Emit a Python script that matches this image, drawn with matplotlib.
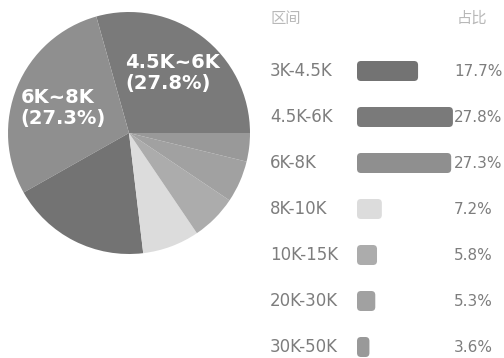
import matplotlib
matplotlib.use("Agg")
import matplotlib.pyplot as plt
from matplotlib.patches import FancyBboxPatch
import numpy as np

plt.rcParams['font.family'] = ['DejaVu Sans', 'Noto Sans CJK SC']

categories = ["3K-4.5K", "4.5K-6K", "6K-8K", "8K-10K", "10K-15K", "20K-30K", "30K-50K"]
values = [17.7, 27.8, 27.3, 7.2, 5.8, 5.3, 3.6]
colors = ["#737373", "#7a7a7a", "#8f8f8f", "#dcdcdc", "#acacac", "#a1a1a1", "#999999"]
pie_order = [1, 2, 0, 3, 4, 5, 6]
pie_labels = {1: "4.5K~6K\n(27.8%)", 2: "6K~8K\n(27.3%)"}
header_left = "区间"
header_right = "占比"

W, H = 504, 358
fig = plt.figure(figsize=(W / 100, H / 100), dpi=100)

# pie
cx, cy, r = 129, 133, 121
axp = fig.add_axes([(cx - r) / W, (H - cy - r) / H, 2 * r / W, 2 * r / H])
pv = [values[i] for i in pie_order]
pc = [colors[i] for i in pie_order]
wedges, _ = axp.pie(pv, colors=pc, startangle=0, counterclock=True,
                    wedgeprops=dict(linewidth=0))
axp.set_xlim(-1, 1)
axp.set_ylim(-1, 1)
axp.set_aspect('equal')
for w, idx in zip(wedges, pie_order):
    if idx in pie_labels:
        ang = np.deg2rad((w.theta1 + w.theta2) / 2 + 2.5)
        axp.text(0.6 * np.cos(ang) + 0.02, 0.6 * np.sin(ang), pie_labels[idx],
                 ha='center', va='center', multialignment='left', color='white',
                 fontsize=14, fontweight='bold', linespacing=1.15)

# legend table
axl = fig.add_axes([0, 0, 1, 1], zorder=-1)
axl.set_xlim(0, W)
axl.set_ylim(H, 0)
axl.axis('off')
axl.text(270, 18, header_left, fontsize=11, color='#b8b8b8', va='center', ha='left',
         family=['Noto Sans CJK SC', 'DejaVu Sans'])
axl.text(457, 18, header_right, fontsize=11, color='#b8b8b8', va='center', ha='left',
         family=['Noto Sans CJK SC', 'DejaVu Sans'])
rows_y = np.linspace(71, 347, len(categories))
scale = 3.45
bar_x0 = 357
bar_h = 20
for y, cat, v, c in zip(rows_y, categories, values, colors):
    axl.text(270, y, cat, fontsize=12, color='#7d7d7d', va='center', ha='left')
    wbar = v * scale
    rad = min(4, wbar / 2 - 0.5)
    p = FancyBboxPatch((bar_x0 + rad, y - bar_h / 2 + rad), wbar - 2 * rad, bar_h - 2 * rad,
                       boxstyle=f"round,pad={rad}", facecolor=c, edgecolor='none')
    axl.add_patch(p)
    axl.text(454, y, f"{v:.1f}%", fontsize=11, color='#7d7d7d', va='center', ha='left')

fig.savefig("out.png", dpi=100)
